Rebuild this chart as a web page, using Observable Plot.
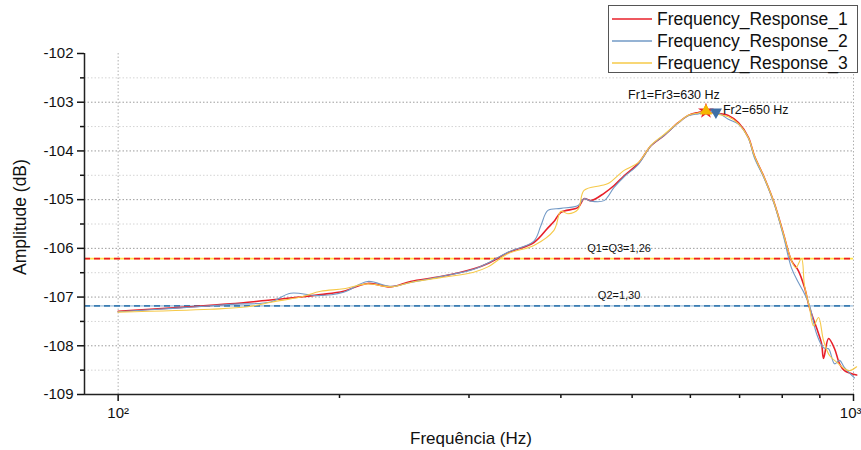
<!DOCTYPE html>
<html>
<head>
<meta charset="utf-8">
<script src="https://cdn.jsdelivr.net/npm/d3@7"></script>
<script src="https://cdn.jsdelivr.net/npm/@observablehq/plot@0.6"></script>
<style>
  body { margin: 0; background: #fff; font-family: "Liberation Sans", Arial, sans-serif; }
  #wrap { position: relative; width: 861px; height: 450px; }
  #legend { position: absolute; left: 608px; top: 5px; width: 250px; height: 68px;
            border: 1px solid #555; background: #fff; box-sizing: border-box; }
  .row { position: absolute; left: 0; height: 22px; display: flex; align-items: center;
         font-size: 17.5px; color: #111; white-space: nowrap; }
  .row svg { margin-left: 3px; margin-right: 5px; }
</style>
</head>
<body>
<div id="wrap"><div id="legend"></div></div>
<script>
// Measured amplitude responses (frequency in Hz, amplitude in dB)
const seriesNames = ["Frequency_Response_1", "Frequency_Response_2", "Frequency_Response_3"];
const seriesColors = ["#e8202a", "#7299c6", "#f6c948"];
const seriesWidths = [1.6, 1.1, 1.1];

const freq1 = [100, 110.6, 125.3, 142.1, 161.1, 177, 188.5, 202.6, 218.4, 234.8, 249.9, 274.6, 304.6, 318.3,
  338.8, 367.6, 384.1, 391.4, 400.1, 422.1, 430.1, 439.6, 457.9, 472.5, 487.6, 509.5, 530.7, 552.8, 577.6,
  596.1, 615.1, 630, 640.7, 675.7, 697.3, 719.5, 733.2, 756.4, 780.6, 803, 823.4, 841.6, 857.7, 871.4,
  890.7, 904.7, 910.4, 924.8, 942.4, 957.4, 972.2, 1010];
const amp1 = [-107.29, -107.25, -107.20, -107.14, -107.06, -107.00, -106.95, -106.88, -106.72, -106.79,
  -106.68, -106.58, -106.42, -106.31, -106.09, -105.88, -105.58, -105.45, -105.26, -105.16, -104.98,
  -105.02, -104.87, -104.71, -104.51, -104.26, -103.89, -103.68, -103.42, -103.27, -103.21, -103.18,
  -103.21, -103.27, -103.42, -103.72, -104.10, -104.55, -105.08, -105.70, -106.25, -106.46, -106.80,
  -107.22, -107.63, -107.95, -108.26, -107.85, -108.06, -108.37, -108.51, -108.60];

const freq2 = [100, 110.6, 125.3, 142.1, 161.1, 171.6, 186.7, 202.6, 218.4, 234.8, 249.9, 274.6, 304.6,
  318.3, 338.8, 367.6, 375.8, 384.1, 400.1, 422.1, 430.1, 439.6, 457.9, 472.5, 487.6, 509.5, 530.7, 552.8,
  577.6, 596.1, 615.1, 650, 675.7, 697.3, 719.5, 733.2, 756.4, 780.6, 803, 823.4, 841.6, 857.7, 871.4,
  890.7, 910.4, 924.8, 942.4, 957.4, 972.2, 1003];
const amp2 = [-107.30, -107.26, -107.21, -107.15, -107.10, -106.92, -106.97, -106.90, -106.68, -106.78,
  -106.70, -106.58, -106.43, -106.30, -106.08, -105.85, -105.53, -105.22, -105.18, -105.12, -104.98,
  -105.03, -105.02, -104.75, -104.53, -104.28, -103.89, -103.68, -103.43, -103.28, -103.24, -103.20,
  -103.35, -103.45, -103.74, -104.14, -104.57, -105.10, -105.75, -106.40, -106.70, -106.93, -107.17,
  -107.75, -108.04, -108.06, -108.37, -108.30, -108.45, -108.66];

const freq3 = [100, 133.5, 150, 162, 177, 188.5, 202.6, 218.4, 234.8, 249.9, 274.6, 304.6, 318.3, 338.8,
  367.6, 391.4, 400.1, 409, 422.1, 430.1, 453.6, 463.7, 487.6, 509.5, 530.7, 552.8, 577.6, 596.1, 615.1,
  630, 640.7, 675.7, 697.3, 719.5, 733.2, 756.4, 780.6, 803, 823.4, 835, 849.7, 857.7, 871.4, 882.3,
  896.3, 910.4, 927.7, 951.2, 972.2, 987.6, 1010];
const amp3 = [-107.31, -107.25, -107.20, -107.10, -107.00, -106.88, -106.83, -106.73, -106.79, -106.70,
  -106.60, -106.49, -106.38, -106.11, -105.94, -105.63, -105.24, -105.29, -105.20, -104.81, -104.71,
  -104.67, -104.40, -104.24, -103.88, -103.66, -103.42, -103.27, -103.22, -103.18, -103.22, -103.30,
  -103.44, -103.73, -104.10, -104.55, -105.08, -105.70, -106.25, -106.40, -106.21, -106.76, -107.22,
  -107.59, -107.42, -107.89, -108.20, -108.35, -108.47, -108.51, -108.43];

// Resonance peaks (Fr1, Fr2, Fr3)
const peakFreq = [630, 650, 630];
const peakAmp = [-103.18, -103.20, -103.18];

// Bandwidth reference levels and quality factors
const qLevels = [-106.21, -107.18];
const qLabels = ["Q1=Q3=1,26", "Q2=1,30"];
const qLabelFreq = 480;

// Axis ticks
const yMajor = [-109, -108, -107, -106, -105, -104, -103, -102];
const yMinor = [-108.5, -107.5, -106.5, -105.5, -104.5, -103.5, -102.5];
const yGridMajor = [-108, -107, -106, -105, -104, -103];
const xMajor = [100, 1000];
const xMinor = [200, 300, 400, 500, 600, 700, 800, 900];
const xTickText = ["10²", "10³"];

const series = [[freq1, amp1], [freq2, amp2], [freq3, amp3]].map(([f, a], i) =>
  f.slice(0, Math.min(f.length, a.length)).map((v, j) => ({series: seriesNames[i], freq: v, amp: a[j]})));

const peaks = peakFreq.map((f, i) => ({series: seriesNames[i], freq: f, amp: peakAmp[i]}));
const qRows = qLevels.map((l, i) => ({level: l, label: qLabels[i], freq: qLabelFreq}));

const font = '"Liberation Sans", Arial, sans-serif';

const chart = Plot.plot({
  width: 861,
  height: 450,
  marginLeft: 84,
  marginRight: 8,
  marginTop: 53,
  marginBottom: 56,
  style: {fontFamily: font, fontSize: "15px", color: "#111", background: "#fff", overflow: "visible"},
  x: {type: "log", domain: [90, 1000]},
  y: {domain: [-109, -102]},
  marks: [
    // grid
    Plot.gridY(yMinor, {stroke: "#d4d4d4", strokeOpacity: 1, strokeDasharray: "1.5,2"}),
    Plot.gridY(yGridMajor, {stroke: "#9c9c9c", strokeOpacity: 1, strokeDasharray: "1.5,2"}),
    Plot.gridX(xMajor, {stroke: "#b0b0b0", strokeOpacity: 1, strokeDasharray: "1.5,2"}),

    // -3 dB reference levels
    Plot.ruleY([qLevels[0]], {stroke: "#ffe24d", strokeWidth: 1.6}),
    Plot.ruleY([qLevels[0]], {stroke: "#ee1c24", strokeWidth: 1.6, strokeDasharray: "6,4"}),
    Plot.ruleY([qLevels[1]], {stroke: "#b7d0e6", strokeWidth: 1.6}),
    Plot.ruleY([qLevels[1]], {stroke: "#3b7db3", strokeWidth: 1.6, strokeDasharray: "6,4"}),

    // response curves
    ...series.map((rows, i) => Plot.line(rows, {
      x: "freq", y: "amp", stroke: seriesColors[i], strokeWidth: seriesWidths[i], curve: "catmull-rom"
    })),

    // peak markers
    Plot.dot([peaks[0]], {x: "freq", y: "amp", symbol: "star", r: 5, fill: "#e8202a", stroke: "none"}),
    Plot.dot([peaks[2]], {x: "freq", y: "amp", symbol: "triangle", r: 4.5, fill: "#f5b700", stroke: "none"}),
    Plot.dot([peaks[1]], {x: "freq", y: "amp", symbol: "triangle", rotate: 180, r: 4.5, fill: "#3e6fa6", stroke: "none"}),

    // annotations
    Plot.text([peaks[0]], {x: "freq", y: "amp", text: d => `Fr1=Fr3=${d.freq} Hz`,
      dx: -32, dy: -16, fontSize: 12.5, fill: "#111"}),
    Plot.text([peaks[1]], {x: "freq", y: "amp", text: d => `Fr2=${d.freq} Hz`,
      textAnchor: "start", dx: 7, dy: -2, fontSize: 12.5, fill: "#111"}),
    Plot.text(qRows, {x: "freq", y: "level", text: "label", dy: -10, fontSize: 11, fill: "#111"}),

    // axes
    Plot.axisY(yMajor, {tickSize: 7, tickPadding: 4, strokeWidth: 1.5, tickFormat: d => String(d),
      fontSize: 15, label: null}),
    Plot.axisY(yMinor, {tickSize: 4, strokeWidth: 1.5, tickFormat: () => "", label: null}),
    Plot.axisX(xMajor, {tickSize: 7, strokeWidth: 1.5, tickFormat: () => "", label: null}),
    Plot.axisX(xMinor, {tickSize: 4, strokeWidth: 1.5, tickFormat: () => "", label: null}),
    Plot.text(xMajor, {x: d => d, frameAnchor: "bottom", text: (d, i) => xTickText[i],
      lineAnchor: "middle", textAnchor: "middle", dx: 0, dy: 19, fontSize: 15, fill: "#111"}),
    Plot.ruleX([90], {stroke: "#222", strokeWidth: 1.5}),
    Plot.ruleY([-109], {stroke: "#222", strokeWidth: 1.5}),

    // axis titles
    Plot.text(["Amplitude (dB)"], {frameAnchor: "left", text: d => d, rotate: -90, textAnchor: "middle",
      lineAnchor: "middle", dx: -64, dy: -7, fontSize: 17.5, fill: "#111"}),
    Plot.text(["Frequência (Hz)"], {frameAnchor: "bottom", text: d => d, textAnchor: "middle",
      lineAnchor: "middle", dx: 2, dy: 44, fontSize: 17, fill: "#111"})
  ]
});

const wrap = document.getElementById("wrap");
wrap.insertBefore(chart, wrap.firstChild);

// keep the last decade label inside the page edge
chart.querySelectorAll("text").forEach(t => {
  if (t.textContent === xTickText[1]) t.setAttribute("text-anchor", "end"), t.setAttribute("dx", "8");
});

// legend
const legend = document.getElementById("legend");
seriesNames.forEach((name, i) => {
  const row = document.createElement("div");
  row.className = "row";
  row.style.top = (2 + i * 22) + "px";
  row.innerHTML = `<svg width="40" height="10"><line x1="0" x2="40" y1="5" y2="5" stroke="${seriesColors[i]}"
    stroke-width="2" stroke-opacity="0.75"/></svg><span>${name}</span>`;
  legend.appendChild(row);
});
</script>
</body>
</html>
